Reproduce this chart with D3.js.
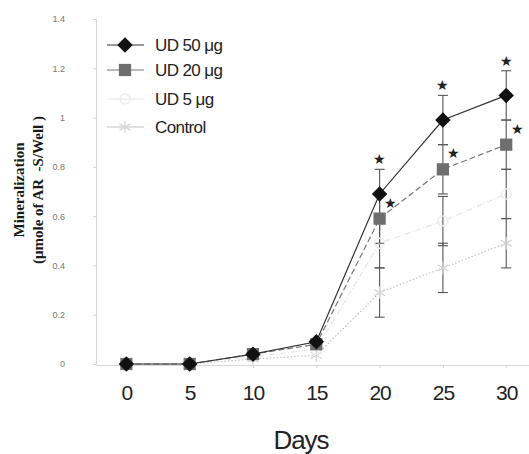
<!DOCTYPE html>
<html>
<head>
<meta charset="utf-8">
<script src="https://cdn.jsdelivr.net/npm/d3@7"></script>
<style>
  body { margin: 0; background: #fff; }
  svg { display: block; }
  text { font-family: "Liberation Sans", Arial, sans-serif; }
</style>
</head>
<body>
<div id="chart"></div>
<script>
// data
var days = [0, 5, 10, 15, 20, 25, 30];
var ud50 = [0, 0, 0.04, 0.09, 0.69, 0.99, 1.09];
var ud50Err = [0, 0, 0, 0, 0.1, 0.1, 0.1];
var ud20 = [0, 0, 0.04, 0.08, 0.59, 0.79, 0.89];
var ud20Err = [0, 0, 0, 0, 0.1, 0.1, 0.1];
var ud5 = [0, 0, 0.03, 0.06, 0.49, 0.58, 0.69];
var ud5Err = [0, 0, 0, 0, 0.1, 0.1, 0.1];
var control = [0, 0, 0.02, 0.035, 0.29, 0.39, 0.49];
var controlErr = [0, 0, 0, 0, 0.1, 0.1, 0.1];
var starDays = [20, 25, 30];
var yTicks = [0, 0.2, 0.4, 0.6, 0.8, 1, 1.2, 1.4];
var xTicks = [0, 5, 10, 15, 20, 25, 30];

var width = 529, height = 454;

var svg = d3.select("#chart")
  .append("svg")
  .attr("width", width)
  .attr("height", height);

var x = d3.scaleLinear().domain([-2.4, 31.8]).range([96, 529]);
var y = d3.scaleLinear().domain([0, 1.4]).range([364, 19]);

// axes
var yAxis = svg.append("g")
  .attr("transform", "translate(96,0)")
  .call(d3.axisLeft(y).tickValues(yTicks).tickSize(3).tickPadding(28)
    .tickFormat(function(d) { return d3.format("")(+d.toFixed(1)); }));
yAxis.select(".domain").attr("stroke", "#d6d6d6");
yAxis.selectAll(".tick line").attr("stroke", "#d6d6d6");
yAxis.selectAll("text").attr("fill", "#777").style("font-size", "9px");

var xAxis = svg.append("g")
  .attr("transform", "translate(0,365)")
  .call(d3.axisBottom(x).tickValues(xTicks).tickSize(3).tickPadding(17).tickSizeOuter(0));
xAxis.select(".domain").attr("stroke", "#d6d6d6");
xAxis.selectAll(".tick line").attr("stroke", "#d6d6d6");
xAxis.selectAll("text").attr("fill", "#222").style("font-size", "21px").style("letter-spacing", "-1px");

svg.append("text")
  .attr("x", 301).attr("y", 449)
  .attr("text-anchor", "middle")
  .style("font-size", "26px").style("letter-spacing", "-1px")
  .attr("fill", "#222")
  .text("Days");

// y title (two lines, bold serif)
var yt = svg.append("g").attr("transform", "translate(0,190) rotate(-90)");
yt.append("text").attr("x", 0).attr("y", 24)
  .attr("text-anchor", "middle")
  .style("font-family", "'Liberation Serif', 'Times New Roman', serif")
  .style("font-weight", "bold").style("font-size", "15px").attr("fill", "#1a1a1a")
  .text("Mineralization");
yt.append("text").attr("x", 0).attr("y", 43)
  .attr("text-anchor", "middle")
  .style("font-family", "'Liberation Serif', 'Times New Roman', serif")
  .style("font-weight", "bold").style("font-size", "15px").attr("fill", "#1a1a1a")
  .attr("xml:space", "preserve")
  .text("(\u03bcmole of AR  -S/Well )");

var series = [
  {name: "UD 50 \u03bcg", values: ud50, err: ud50Err, line: "#333", dash: null, fill: "#111", shape: "diamond"},
  {name: "UD 20 \u03bcg", values: ud20, err: ud20Err, line: "#777", dash: "6,3", fill: "#6e6e6e", shape: "square"},
  {name: "UD 5 \u03bcg", values: ud5, err: ud5Err, line: "#e6e6e6", dash: "6,2,1,2", fill: "#eeeeee", shape: "circle"},
  {name: "Control", values: control, err: controlErr, line: "#c4c4c4", dash: "1.5,2", fill: "#d4d4d4", shape: "asterisk"}
];

function marker(g, shape, fill) {
  if (shape == "diamond") {
    g.append("path").attr("d", d3.symbol(d3.symbolSquare, 120)())
      .attr("transform", "rotate(45)")
      .attr("fill", fill);
  } else if (shape == "square") {
    g.append("path").attr("d", d3.symbol(d3.symbolSquare, 150)()).attr("fill", fill);
  } else if (shape == "circle") {
    g.append("circle").attr("r", 5).attr("fill", "none").attr("stroke", fill).attr("stroke-width", 1.5);
  } else {
    g.append("path").attr("d", d3.symbol(d3.symbolAsterisk, 110)())
      .attr("fill", "none").attr("stroke", fill).attr("stroke-width", 1.2);
  }
}

var line = d3.line()
  .x(function(d, i) { return x(days[i]); })
  .y(function(d) { return y(d); });

// error bars
series.slice().reverse().forEach(function(s) {
  days.forEach(function(d, i) {
    if (!s.err[i]) return;
    var g = svg.append("g").attr("stroke", "#555").attr("stroke-width", 1.1);
    var cx = x(d), lo = y(s.values[i] - s.err[i]), hi = y(s.values[i] + s.err[i]);
    g.append("line").attr("x1", cx).attr("x2", cx).attr("y1", lo).attr("y2", hi);
    g.append("line").attr("x1", cx - 5).attr("x2", cx + 5).attr("y1", lo).attr("y2", lo);
    g.append("line").attr("x1", cx - 5).attr("x2", cx + 5).attr("y1", hi).attr("y2", hi);
  });
});

// lines and markers, faint series underneath
series.slice().reverse().forEach(function(s) {
  svg.append("path")
    .datum(s.values)
    .attr("d", line)
    .attr("fill", "none")
    .attr("stroke", s.line)
    .attr("stroke-width", 1.2)
    .attr("stroke-dasharray", s.dash);
  days.forEach(function(d, i) {
    var g = svg.append("g").attr("transform", "translate(" + x(d) + "," + y(s.values[i]) + ")");
    marker(g, s.shape, s.fill);
  });
});

// significance stars
starDays.forEach(function(d) {
  var i = days.indexOf(d);
  svg.append("text")
    .attr("x", x(d)).attr("y", y(ud50[i] + ud50Err[i]) - 5)
    .attr("text-anchor", "middle")
    .style("font-size", "14px").attr("fill", "#222")
    .text("\u2605");
  svg.append("text")
    .attr("x", x(d) + 11).attr("y", y(ud20[i]) - 11)
    .attr("text-anchor", "middle")
    .style("font-size", "14px").attr("fill", "#222")
    .text("\u2605");
});

// legend
var legend = svg.append("g");
var rowsY = [45, 70, 99, 127];
series.forEach(function(s, i) {
  var row = legend.append("g").attr("transform", "translate(0," + rowsY[i] + ")");
  row.append("line").attr("x1", 107).attr("x2", 144).attr("y1", 0).attr("y2", 0)
    .attr("stroke", s.line).attr("stroke-width", 1.2);
  var g = row.append("g").attr("transform", "translate(125,0)");
  marker(g, s.shape, s.fill);
  row.append("text").attr("x", 155).attr("y", 6)
    .style("font-size", "17px").style("letter-spacing", "-0.6px")
    .attr("fill", "#222")
    .text(s.name);
});
</script>
</body>
</html>
